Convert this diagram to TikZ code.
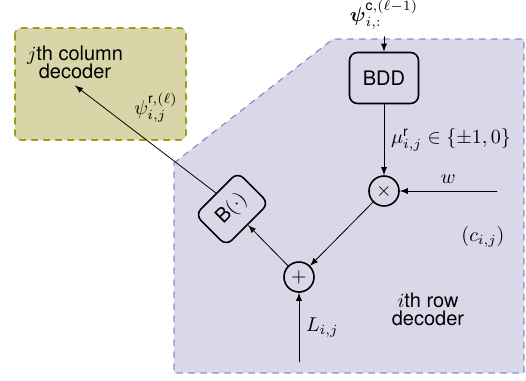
\documentclass[tikz,border=0pt]{standalone}
\usepackage{amsmath,amssymb}
\usepackage{fontspec}
\setsansfont{TeX Gyre Heros}
\renewcommand{\familydefault}{\sfdefault}
\usetikzlibrary{arrows}

\definecolor{rowfill}{RGB}{216,216,232}
\definecolor{rowline}{RGB}{140,140,200}
\definecolor{colfill}{RGB}{216,214,168}
\definecolor{colline}{RGB}{160,154,24}

\begin{document}
\begin{tikzpicture}[line cap=round,line join=round,>=latex,x=0.5pt,y=-0.5pt,
    blk/.style={draw,thick,rounded corners=4pt,minimum width=34.5pt,minimum height=25.5pt},
    op/.style={draw,thick,circle,minimum size=15pt,inner sep=0pt}]
        \useasboundingbox (0,0) rectangle (526,381);
        \draw [dashed,thick,rounded corners=3pt,fill=colfill,draw=colline] (15,28) rectangle (186,140);
        \draw [dashed,semithick,fill=rowfill,draw=rowline] (174,163) -- (333,39) -- (524,39) -- (524,373) -- (174,373) -- cycle;
        \node [blk] (bdd) at (384,78) {BDD};
        \node [op] (times) at (384,191) {$\times$};
        \node [op] (plus) at (299,277) {$+$};
        \node [blk,rotate=45,minimum width=30pt,minimum height=22pt] (bfun) at (232,209) {B$(\cdot)$};
        \node (psic) at (384,15) {$\boldsymbol{\psi}^{\mathsf{c},(\ell-1)}_{i,:}$};
        \node [align=center] (coldec) at (75,62) {$j$th column\\[-3pt]decoder};
        \node (psir) at (156,108) {$\psi^{\mathsf{r},(\ell)}_{i,j}$};
        \node (cij) at (483,237) {$(c_{i,j})$};
        \node [align=center] (rowdec) at (428,309) {$i$th row\\[-3pt]decoder};
        \coordinate (win) at (497,191);
        \coordinate (lin) at (299,362);
        \draw [->] (psic) -- (bdd);
        \draw [->] (bdd) -- node[right] {$\mu^{\mathsf{r}}_{i,j}\in\{\pm1,0\}$} (times);
        \draw [->] (win) -- node[above] {$w$} (times);
        \draw [->] (times) -- (plus);
        \draw [->] (lin) -- node[right] {$L_{i,j}$} (plus);
        \draw [->] (plus) -- (bfun.south);
        \draw [->] (bfun.north) -- (coldec.south);
    \end{tikzpicture}
\end{document}
